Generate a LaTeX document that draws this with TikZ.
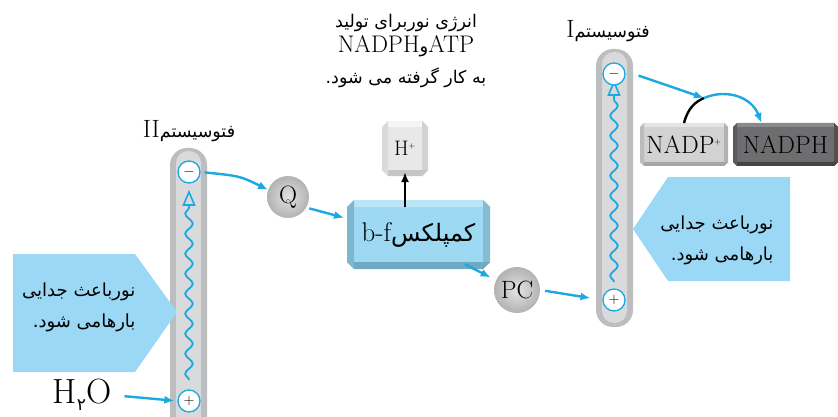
\documentclass[tikz,border=0pt]{standalone}
\usepackage{fontspec}
\usetikzlibrary{arrows.meta,decorations.pathmorphing,calc}
\TeXXeTstate=1
\newfontfamily\arabicfont[Script=Arabic]{DejaVu Sans}
\definecolor{cyanA}{HTML}{1CA8E0}
\definecolor{paleblue}{HTML}{9BD8F5}
\definecolor{bfFace}{HTML}{9DD9F2}
\definecolor{bfTop}{HTML}{BAE5F7}
\definecolor{bfRight}{HTML}{84BCD4}
\definecolor{bfBottom}{HTML}{70A9C2}
\definecolor{bfLeft}{HTML}{7DB6CF}
\definecolor{hFace}{HTML}{E8E8E8}
\definecolor{hTop}{HTML}{F5F5F5}
\definecolor{hRight}{HTML}{D2D2D2}
\definecolor{hBottom}{HTML}{C6C6C6}
\definecolor{hLeft}{HTML}{DADADA}
\definecolor{nFace}{HTML}{D2D2D3}
\definecolor{nTop}{HTML}{E4E4E4}
\definecolor{nRight}{HTML}{B2B2B3}
\definecolor{nBottom}{HTML}{A5A5A6}
\definecolor{nLeft}{HTML}{BCBCBD}
\definecolor{dFace}{HTML}{6E6E70}
\definecolor{dTop}{HTML}{8A8A8C}
\definecolor{dRight}{HTML}{515153}
\definecolor{dBottom}{HTML}{444446}
\definecolor{dLeft}{HTML}{5B5B5D}
\definecolor{colOut}{HTML}{BCBDBF}
\definecolor{colIn}{HTML}{D9DADB}
\newcommand{\bevel}[6]{%
 \fill[#3] (#1.north west) -- (#1.north east) -- ([shift={(-#2,#2)}]#1.north east) -- ([shift={(#2,#2)}]#1.north west) -- cycle;
 \fill[#4] (#1.north east) -- (#1.south east) -- ([shift={(-#2,-#2)}]#1.south east) -- ([shift={(-#2,#2)}]#1.north east) -- cycle;
 \fill[#5] (#1.south east) -- (#1.south west) -- ([shift={(#2,-#2)}]#1.south west) -- ([shift={(-#2,-#2)}]#1.south east) -- cycle;
 \fill[#6] (#1.south west) -- (#1.north west) -- ([shift={(#2,#2)}]#1.north west) -- ([shift={(#2,-#2)}]#1.south west) -- cycle;
}
\tikzset{
 arr/.style={draw=cyanA, line width=2.4pt, -{Latex[length=10pt,width=8pt]}},
 blackarr/.style={draw=black, line width=2.4pt, -{Latex[length=10pt,width=8pt]}},
 pole/.style={circle, draw=cyanA, line width=1.3pt, fill=white, minimum size=22pt, inner sep=0pt, font=\fontsize{15}{15}\selectfont},
 disc/.style={circle, inner sep=0pt, shading=radial, inner color=gray!22, outer color=gray!60, font=\fontsize{25}{25}\selectfont},
 wave/.style={draw=cyanA, line width=1.8pt, decorate, decoration={snake, amplitude=3.8pt, segment length=20pt}},
 tip/.style={draw=cyanA, line width=1.6pt, fill=colIn, line join=miter},
 bbox/.style={inner sep=0pt, outer sep=0pt},
 fatext/.style={font=\fontsize{18}{31}\arabicfont},
}
\begin{document}
\begin{tikzpicture}[x=1pt,y=-1pt]
\useasboundingbox (0,0) rectangle (838,417);
\clip (0,0) rectangle (838,417);
% photosystem columns
\fill[colOut, rounded corners=17pt] (170,148) rectangle (207,434);
\fill[colIn, rounded corners=12pt] (176,151) rectangle (201,430);
\fill[colOut, rounded corners=17pt] (596,49) rectangle (633,327);
\fill[colIn, rounded corners=12pt] (602,52) rectangle (627,323);
% light arrows (pentagons)
\fill[paleblue] (13,254) -- (135,254) -- (177,312) -- (135,372) -- (13,372) -- cycle;
\fill[paleblue] (668,177) -- (790,177) -- (790,281) -- (668,281) -- (633,229) -- cycle;
% waves
\coordinate (w2a) at (189,380);
\coordinate (w2b) at (189,206);
\coordinate (w1a) at (614,282);
\coordinate (w1b) at (614,96);
\draw[wave] (w2a) -- (w2b);
\draw[tip] (189,192) -- (194.5,205) -- (183.5,205) -- cycle;
\draw[wave] (w1a) -- (w1b);
\draw[tip] (614,82) -- (619.5,95) -- (608.5,95) -- cycle;
% poles
\node[pole] (m2) at (189,172) {$-$};
\node[pole] (p2) at (189,401) {$+$};
\node[pole] (m1) at (614,74) {$-$};
\node[pole] (p1) at (614,300) {$+$};
% carriers
\node[disc, minimum size=42pt] (Q) at (288,197) {Q};
\node[disc, minimum size=46pt] (PC) at (517,290) {PC};
% boxes
\node[bbox, minimum width=143pt, minimum height=55pt, fill=bfFace, font=\fontsize{27}{27}\selectfont] (bf) at (418.5,234.5) {b-f{\arabicfont\fontsize{24}{24}\selectfont\beginR کمپلکس\endR}};
\bevel{bf}{7pt}{bfTop}{bfRight}{bfBottom}{bfLeft}
\node[bbox, minimum width=46pt, minimum height=43pt, fill=hFace, font=\fontsize{21}{21}\selectfont] (h) at (405,148.5) {H\textsuperscript{\fontsize{8}{8}\selectfont+}};
\bevel{h}{6pt}{hTop}{hRight}{hBottom}{hLeft}
\node[bbox, minimum width=88pt, minimum height=35pt, fill=nFace, font=\fontsize{25}{25}\selectfont] (nadp) at (684,144.5) {NADP\textsuperscript{\fontsize{8}{8}\selectfont+}};
\bevel{nadp}{4pt}{nTop}{nRight}{nBottom}{nLeft}
\node[bbox, minimum width=105pt, minimum height=35pt, fill=dFace, font=\fontsize{25}{25}\selectfont] (nadph) at (785.5,144.5) {NADPH};
\bevel{nadph}{4pt}{dTop}{dRight}{dBottom}{dLeft}
% texts
\node[align=center, font=\fontsize{24}{28}\selectfont] (top) at (406,51)
 {{\arabicfont\fontsize{17.5}{17.5}\selectfont\beginR انرژی نوربرای تولید\endR}\\[-3pt]
  NADPH{\arabicfont\fontsize{18}{18}\selectfont و}ATP\\[3pt]
  {\arabicfont\fontsize{17.5}{17.5}\selectfont\beginR به کار گرفته می شود.\endR}};
\node[font=\fontsize{25}{25}\selectfont] (ps2) at (189,131) {II{\arabicfont\fontsize{17.5}{17.5}\selectfont\beginR فتوسیستم\endR}};
\node[font=\fontsize{25}{25}\selectfont] (ps1) at (608,31) {I{\arabicfont\fontsize{17.5}{17.5}\selectfont\beginR فتوسیستم\endR}};
\node[fatext, align=right, anchor=east] (lt) at (139,307) {\beginR نورباعث جدایی\endR\\\beginR بارهامی شود.\endR};
\node[fatext, align=right, anchor=east] (rt) at (777,240) {\beginR نورباعث جدایی\endR\\\beginR بارهامی شود.\endR};
\node[font=\fontsize{35}{35}\selectfont, inner sep=0pt] (h2o) at (82,395) {H\raisebox{-7pt}{\arabicfont\fontsize{17}{17}\selectfont ۲}O};
% connectors
\coordinate (j) at (704,98);
\draw[arr, shorten <=4pt] (m2.east) .. controls (240,176) .. (Q.160);
\draw[arr, shorten <=3pt, shorten >=3pt] (Q.-30) -- ([yshift=16pt]bf.west);
\draw[blackarr, shorten >=2pt] (h.south |- bf.north) -- (h.south);
\draw[arr, shorten <=5pt, shorten >=6pt] ([xshift=42pt]bf.south) -- (PC.155);
\draw[arr, shorten <=5pt, shorten >=12pt] (PC.east) -- (p1.west);
\draw[arr, shorten <=13pt, shorten >=3pt] (h2o.east) -- (p2.west);
\draw[arr, shorten <=14pt] (m1.15) -- (j);
\draw[black, line width=2.4pt] ([yshift=4pt]nadp.north) .. controls (688,108) and (695,102) .. (j);
\draw[arr] (j) .. controls (728,88) and (752,98) .. ([shift={(-24pt,4pt)}]nadph.north);
\end{tikzpicture}
\end{document}
